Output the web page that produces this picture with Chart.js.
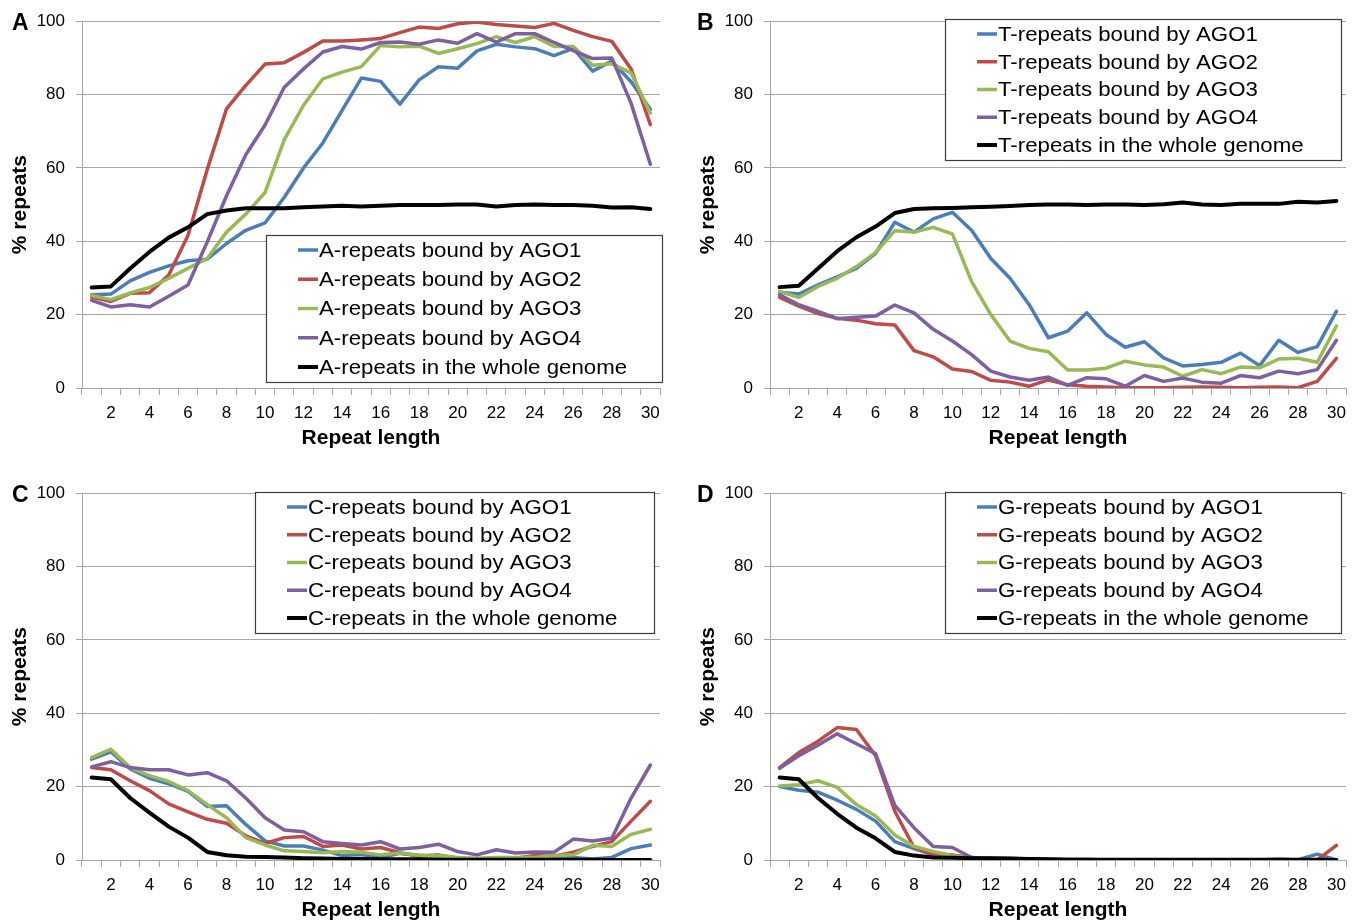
<!DOCTYPE html>
<html>
<head>
<meta charset="utf-8">
<script src="https://cdn.jsdelivr.net/npm/chart.js@4.4.1/dist/chart.umd.min.js"></script>
<style>
  html, body { margin: 0; padding: 0; background: #fff; overflow: hidden; }
  .panel { position: absolute; }
</style>
</head>
<body>
<canvas id="panelA" class="panel" width="680" height="461" style="left:0;top:0"></canvas>
<canvas id="panelB" class="panel" width="680" height="461" style="left:685px;top:0"></canvas>
<canvas id="panelC" class="panel" width="680" height="461" style="left:0;top:472px"></canvas>
<canvas id="panelD" class="panel" width="680" height="461" style="left:685px;top:472px"></canvas>
<script>
// repeat length categories and y ticks
const lengths = [1, 2, 3, 4, 5, 6, 7, 8, 9, 10, 11, 12, 13, 14, 15, 16, 17, 18, 19, 20, 21, 22, 23, 24, 25, 26, 27, 28, 29, 30];
const yTicks = [0, 20, 40, 60, 80, 100];

// A-repeats (% repeats)
const aAgo1 = [25.4, 25.6, 29.2, 31.5, 33.3, 34.7, 35.1, 39.4, 43.0, 45.0, 52.0, 60.0, 66.8, 75.7, 84.5, 83.6, 77.4, 84.0, 87.6, 87.2, 91.9, 93.7, 93.0, 92.5, 90.6, 92.6, 86.4, 89.1, 83.5, 76.0];
const aAgo2 = [24.8, 23.6, 25.8, 26.0, 30.8, 41.6, 59.6, 76.1, 82.5, 88.3, 88.7, 91.5, 94.6, 94.6, 94.9, 95.3, 96.9, 98.4, 98.0, 99.3, 99.8, 99.1, 98.7, 98.3, 99.4, 97.5, 95.8, 94.5, 87.0, 71.8];
const aAgo3 = [25.2, 24.1, 25.9, 27.4, 29.9, 32.6, 35.3, 42.5, 47.4, 53.3, 67.7, 77.1, 84.3, 86.1, 87.6, 93.4, 93.0, 93.2, 91.2, 92.5, 93.9, 95.8, 94.2, 95.8, 93.1, 93.1, 88.0, 88.4, 85.9, 74.9];
const aAgo4 = [23.9, 22.1, 22.7, 22.1, 25.0, 28.1, 39.8, 52.4, 63.6, 71.7, 82.0, 87.0, 91.6, 93.1, 92.4, 94.2, 94.3, 93.7, 94.9, 94.0, 96.6, 94.3, 96.6, 96.6, 94.2, 92.0, 89.8, 90.0, 77.6, 61.0];
const aGenome = [27.4, 27.7, 32.6, 37.1, 41.0, 43.8, 47.4, 48.4, 49.0, 49.0, 49.0, 49.3, 49.5, 49.7, 49.5, 49.7, 49.9, 49.9, 49.9, 50.0, 50.0, 49.5, 49.9, 50.0, 49.9, 49.9, 49.7, 49.2, 49.3, 48.8];

// T-repeats
const tAgo1 = [26.1, 25.6, 28.1, 30.3, 32.6, 36.7, 45.2, 42.5, 46.1, 47.9, 43.0, 35.3, 29.9, 22.7, 13.7, 15.5, 20.5, 14.6, 11.1, 12.6, 8.2, 6.0, 6.4, 7.0, 9.5, 6.1, 13.0, 9.7, 11.3, 20.9];
const tAgo2 = [24.7, 22.3, 20.3, 19.0, 18.5, 17.5, 17.2, 10.2, 8.5, 5.2, 4.5, 2.1, 1.6, 0.5, 2.2, 0.9, 0.5, 0.3, 0.1, 0.1, 0.1, 0.2, 0.3, 0.2, 0.1, 0.2, 0.3, 0.1, 1.8, 8.1];
const tAgo3 = [26.3, 24.7, 27.7, 29.9, 33.1, 36.9, 42.9, 42.5, 43.8, 42.0, 29.0, 20.0, 12.8, 10.8, 9.9, 4.9, 4.9, 5.4, 7.3, 6.3, 5.7, 3.2, 5.0, 3.9, 5.7, 5.5, 7.9, 8.1, 7.0, 16.9];
const tAgo4 = [25.4, 22.7, 20.9, 18.9, 19.3, 19.6, 22.6, 20.5, 16.0, 12.8, 9.1, 4.6, 3.0, 2.1, 3.0, 0.7, 2.8, 2.5, 0.5, 3.4, 1.8, 2.7, 1.6, 1.3, 3.4, 2.8, 4.6, 3.9, 5.0, 13.0];
const tGenome = [27.5, 27.9, 32.6, 37.3, 41.1, 44.0, 47.7, 48.8, 49.0, 49.1, 49.3, 49.4, 49.6, 49.9, 50.0, 50.0, 49.9, 50.0, 50.0, 49.9, 50.1, 50.6, 50.0, 49.9, 50.2, 50.2, 50.2, 50.8, 50.6, 51.0];

// C-repeats
const cAgo1 = [27.5, 29.5, 24.8, 22.3, 20.8, 18.7, 14.6, 14.8, 9.7, 5.2, 3.8, 3.8, 2.7, 1.2, 1.5, 0.7, 1.8, 1.3, 1.0, 0.4, 0.3, 0.4, 0.4, 0.4, 0.4, 0.7, 0.3, 0.7, 3.1, 4.1];
const cAgo2 = [25.2, 24.6, 21.6, 18.9, 15.3, 13.1, 11.1, 10.0, 6.6, 4.5, 6.1, 6.4, 3.7, 4.1, 3.0, 3.4, 2.0, 1.0, 1.4, 0.5, 0.3, 0.4, 0.5, 1.2, 1.0, 2.1, 3.7, 5.0, 10.6, 16.0];
const cAgo3 = [27.9, 30.2, 25.2, 23.0, 21.4, 18.9, 15.1, 11.5, 6.1, 4.1, 2.5, 2.3, 2.0, 2.3, 2.1, 1.4, 1.9, 1.3, 1.2, 0.7, 0.5, 0.7, 0.7, 0.7, 1.2, 1.4, 4.0, 3.7, 7.0, 8.4];
const cAgo4 = [25.4, 26.8, 25.2, 24.6, 24.6, 23.2, 23.8, 21.6, 16.9, 11.5, 8.2, 7.7, 5.0, 4.5, 4.1, 5.0, 3.0, 3.4, 4.3, 2.3, 1.4, 2.8, 1.9, 2.2, 2.1, 5.7, 5.2, 5.9, 16.9, 25.9];
const cGenome = [22.5, 22.0, 16.9, 12.9, 9.1, 6.1, 2.2, 1.3, 0.9, 0.8, 0.7, 0.5, 0.4, 0.3, 0.3, 0.2, 0.2, 0.2, 0.1, 0.1, 0.1, 0.1, 0.1, 0.1, 0.1, 0.1, 0.1, 0.0, 0.0, 0.0];

// G-repeats
const gAgo1 = [20.0, 19.0, 18.5, 16.3, 13.8, 10.6, 5.0, 3.1, 1.4, 1.0, 0.7, 0.5, 0.4, 0.3, 0.2, 0.2, 0.1, 0.1, 0.1, 0.1, 0.1, 0.1, 0.1, 0.1, 0.1, 0.1, 0.1, 0.1, 1.6, 0.0];
const gAgo2 = [25.2, 29.3, 32.4, 36.1, 35.6, 28.4, 13.3, 3.4, 1.6, 1.4, 0.7, 0.1, 0.0, 0.0, 0.0, 0.1, 0.2, 0.0, 0.0, 0.0, 0.0, 0.0, 0.0, 0.0, 0.0, 0.0, 0.0, 0.0, 0.0, 4.0];
const gAgo3 = [20.2, 20.5, 21.6, 19.8, 15.1, 12.0, 6.8, 3.7, 2.3, 1.2, 0.5, 0.1, 0.0, 0.0, 0.0, 0.0, 0.0, 0.0, 0.0, 0.0, 0.0, 0.0, 0.0, 0.0, 0.0, 0.0, 0.0, 0.0, 0.0, 0.0];
const gAgo4 = [25.0, 28.4, 31.3, 34.4, 31.7, 29.0, 14.9, 8.8, 3.7, 3.4, 0.7, 0.1, 0.0, 0.0, 0.0, 0.0, 0.0, 0.0, 0.0, 0.0, 0.0, 0.0, 0.0, 0.0, 0.0, 0.0, 0.3, 0.0, 0.0, 0.0];
const gGenome = [22.5, 22.0, 16.9, 12.6, 8.8, 5.9, 2.2, 1.2, 0.7, 0.6, 0.5, 0.5, 0.4, 0.3, 0.2, 0.1, 0.1, 0.1, 0.1, 0.1, 0.1, 0.1, 0.1, 0.1, 0.1, 0.1, 0.1, 0.1, 0.1, 0.0];

const lineColors = ['#4a7ebb', '#be4b48', '#98b954', '#7d60a0', '#000000'];
const FONT = '"Liberation Sans", Arial, Helvetica, sans-serif';
const GRID = '#a6a6a6';

Chart.defaults.font.family = FONT;
Chart.defaults.color = '#000';

// boxed legend drawn over the plot (white fill hides the grid lines)
const boxLegend = {
  id: 'boxLegend',
  afterDatasetsDraw(chart, args, opts) {
    const ctx = chart.ctx;
    const { left, top, width, height } = opts;
    const sets = chart.data.datasets;
    const step = (height - 30) / (sets.length - 1);
    ctx.save();
    ctx.fillStyle = '#fff';
    ctx.fillRect(left, top, width, height);
    ctx.strokeStyle = '#3c3c3c';
    ctx.lineWidth = 1.2;
    ctx.strokeRect(left + 0.5, top + 0.5, width, height);
    ctx.font = '21px ' + FONT;
    ctx.textBaseline = 'middle';
    sets.forEach((ds, i) => {
      const y = top + 15 + i * step;
      ctx.strokeStyle = ds.borderColor;
      ctx.lineWidth = ds.borderWidth;
      ctx.beginPath();
      ctx.moveTo(left + 32, y);
      ctx.lineTo(left + 52, y);
      ctx.stroke();
      ctx.fillStyle = '#000';
      ctx.save();
      ctx.translate(left + 53, y + 1);
      ctx.scale(1.06, 1);
      ctx.fillText(ds.label, 0, 0);
      ctx.restore();
    });
    ctx.restore();
  }
};

// bold panel letter in the top left corner
const panelTag = {
  id: 'panelTag',
  afterDraw(chart, args, opts) {
    const ctx = chart.ctx;
    ctx.save();
    ctx.font = 'bold 23px ' + FONT;
    ctx.fillStyle = '#000';
    ctx.textBaseline = 'alphabetic';
    ctx.fillText(opts.text, opts.x, 29.5);
    ctx.restore();
  }
};

function makePanel(id, letter, base, series, legend, axisWidth, plotWidth, titlePad) {
  const names = ['bound by AGO1', 'bound by AGO2', 'bound by AGO3', 'bound by AGO4', 'in the whole genome'];
  const datasets = series.map((data, i) => ({
    label: base + '-repeats ' + names[i],
    data: data,
    borderColor: lineColors[i],
    backgroundColor: lineColors[i],
    borderWidth: i === 4 ? 4 : 3.5,
    pointRadius: 0,
    tension: 0,
    fill: false,
    borderJoinStyle: 'round',
    borderCapStyle: 'round',
    order: 5 - i
  }));

  return new Chart(document.getElementById(id), {
    type: 'line',
    data: { labels: lengths, datasets: datasets },
    options: {
      responsive: false,
      animation: false,
      layout: { padding: { left: 0, right: 680 - axisWidth - plotWidth, top: 17, bottom: 0 } },
      plugins: {
        legend: { display: false },
        tooltip: { enabled: false },
        boxLegend: legend,
        panelTag: { text: letter, x: 12 }
      },
      scales: {
        x: {
          type: 'category',
          offset: true,
          grid: { offset: true, drawOnChartArea: false, drawTicks: true, tickLength: 7, color: GRID },
          border: { color: GRID, width: 1 },
          ticks: {
            autoSkip: false,
            maxRotation: 0,
            padding: 8,
            font: { size: 17 },
            color: '#000',
            callback: (v, i) => (lengths[i] % 2 === 0 ? String(lengths[i]) : '')
          },
          title: {
            display: true,
            text: 'Repeat length',
            font: { size: 21, weight: 'bold' },
            color: '#000',
            padding: { top: 0, bottom: 10 }
          },
          afterFit: s => { s.height = 73; }
        },
        y: {
          min: 0,
          max: 100,
          afterBuildTicks: s => { s.ticks = yTicks.map(v => ({ value: v })); },
          grid: { color: GRID, lineWidth: 1, drawTicks: true, tickLength: 6 },
          border: { color: GRID, width: 1 },
          ticks: { padding: 11, font: { size: 17 }, color: '#000' },
          title: {
            display: true,
            text: '% repeats',
            font: { size: 21, weight: 'bold' },
            color: '#000',
            padding: { top: titlePad, bottom: 0 }
          },
          afterFit: s => { s.width = axisWidth; }
        }
      }
    },
    plugins: [boxLegend, panelTag]
  });
}

makePanel('panelA', 'A', 'A', [aAgo1, aAgo2, aAgo3, aAgo4, aGenome],
  { left: 266, top: 235, width: 396, height: 147 }, 82, 578, 8);
makePanel('panelB', 'B', 'T', [tAgo1, tAgo2, tAgo3, tAgo4, tGenome],
  { left: 260, top: 19, width: 396, height: 141 }, 85, 576, 11);
makePanel('panelC', 'C', 'C', [cAgo1, cAgo2, cAgo3, cAgo4, cGenome],
  { left: 255, top: 20, width: 399, height: 141 }, 82, 578, 8);
makePanel('panelD', 'D', 'G', [gAgo1, gAgo2, gAgo3, gAgo4, gGenome],
  { left: 260, top: 20, width: 396, height: 141 }, 85, 576, 11);
</script>
</body>
</html>
